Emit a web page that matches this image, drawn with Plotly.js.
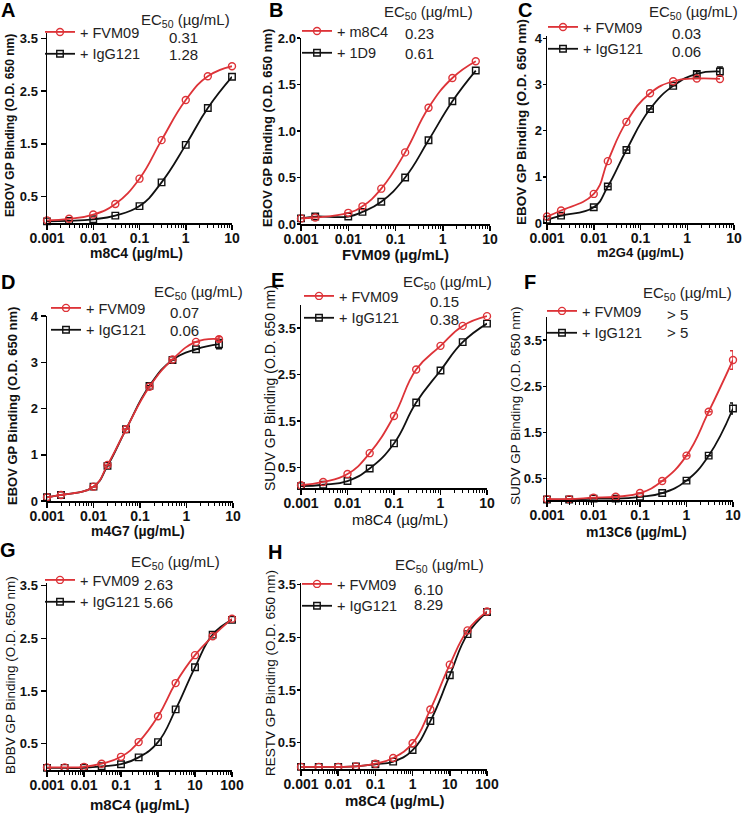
<!DOCTYPE html>
<html><head><meta charset="utf-8">
<script src="https://cdn.plot.ly/plotly-3.0.1.min.js"></script>
<style>html,body{margin:0;padding:0;background:#fff;} #chart{width:743px;height:813px;}</style>
</head><body><div id="chart"></div>
<script>
// ---------------- DATA ----------------
const conc10 = [0.001,0.003,0.01,0.03,0.1,0.3,1,3,10];
const conc5 = [0.001,0.002,0.01,0.02,0.05,0.16,0.5,1.6,5];
const conc100 = [0.001,0.003,0.01,0.03,0.1,0.3,1,3,10,30,100];

const A_FVM09  = [0.05,0.08,0.16,0.36,0.84,1.57,2.33,2.78,2.97];
const A_IgG121 = [0.03,0.04,0.07,0.14,0.32,0.77,1.48,2.18,2.77];
const B_m8C4   = [0.06,0.07,0.12,0.19,0.38,0.77,1.25,1.57,1.75];
const B_1D9    = [0.06,0.08,0.08,0.13,0.24,0.50,0.90,1.32,1.65];
const C_FVM09  = [0.14,0.27,0.63,1.34,2.19,2.81,3.07,3.13,3.12];
const C_IgG121 = [0.07,0.16,0.34,0.79,1.58,2.47,2.97,3.23,3.28];
const C_IgG121_err = [0,0,0,0,0,0,0,0.05,0.1];
const D_FVM09  = [0.08,0.13,0.31,0.78,1.55,2.47,3.06,3.44,3.50];
const D_FVM09_err = [0,0,0,0,0,0,0,0,0.05];
const D_IgG121 = [0.08,0.13,0.31,0.76,1.55,2.49,3.05,3.28,3.39];
const D_IgG121_err = [0,0,0,0,0,0,0,0,0.1];
const E_FVM09  = [0.12,0.19,0.36,0.81,1.61,2.61,3.12,3.55,3.76];
const E_IgG121 = [0.10,0.13,0.21,0.48,1.02,1.90,2.59,3.20,3.60];
const F_FVM09  = [0.06,0.06,0.09,0.11,0.19,0.45,1.00,1.95,3.07];
const F_FVM09_err = [0,0,0,0,0,0,0,0,0.2];
const F_IgG121 = [0.05,0.05,0.07,0.07,0.11,0.19,0.46,1.00,2.02];
const F_IgG121_err = [0,0,0,0,0,0,0,0,0.12];
const G_FVM09  = [0.05,0.05,0.06,0.12,0.25,0.53,1.02,1.65,2.18,2.54,2.87];
const G_IgG121 = [0.04,0.04,0.04,0.07,0.11,0.24,0.53,1.15,1.95,2.57,2.85];
const H_FVM09  = [0.04,0.04,0.04,0.05,0.10,0.21,0.49,1.13,1.98,2.63,2.99];
const H_IgG121 = [0.04,0.04,0.04,0.05,0.09,0.14,0.36,0.91,1.78,2.56,2.98];

const ec50_A = ['0.31','1.28'];
const ec50_B = ['0.23','0.61'];
const ec50_C = ['0.03','0.06'];
const ec50_D = ['0.07','0.06'];
const ec50_E = ['0.15','0.38'];
const ec50_F = ['> 5','> 5'];
const ec50_G = ['2.63','5.66'];
const ec50_H = ['6.10','8.29'];

const xTickVals10 = [0.001,0.01,0.1,1,10];
const xTickText10 = ['0.001','0.01','0.1','1','10'];
const xTickVals100 = [0.001,0.01,0.1,1,10,100];
const xTickText100 = ['0.001','0.01','0.1','1','10','100'];
const yTickOdd = [0.5,1.5,2.5,3.5];
const yTickOddText = ['0.5','1.5','2.5','3.5'];
const yTickB = [0,0.5,1,1.5,2];
const yTickBText = ['0.0','0.5','1.0','1.5','2.0'];
const yTickInt = [0,1,2,3,4];
const yTickIntText = ['0','1','2','3','4'];

// ---------------- LAYOUT CONFIG ----------------
const W = 743, H = 813;
const RED = '#dd3338', BLK = '#111111';
const FONT = 'Arial, "Liberation Sans", sans-serif';
const fx = p => p / W, fy = p => 1 - p / H;

// minor tick positions on the log axes (2..9 within each decade)
function minorTicks(maxDecade){
  const out = [];
  for(let e = -3; e < maxDecade; e++){
    for(let m = 2; m <= 9; m++) out.push(m * Math.pow(10, e));
  }
  return out;
}

const panels = [
 {L:'A', x:conc10, r:A_FVM09, k:A_IgG121, n:['+ FVM09','+ IgG121'], ec:ec50_A,
  xv:xTickVals10, xt:xTickText10, yv:yTickOdd, yt:yTickOddText, xr:[-3,1], yr:[0,3.6],
  box:[47,232,33,223], tight:false, xtitle:'m8C4 (µg/mL)', ytitle:'EBOV GP Binding (O.D. 650 nm)',
  ytf:12, ytw:'bold', ytp:[10,126], xtf:14, xtw:'bold', xtp:[136,253],
  leg:[40,16], hdr:[186,20], val:[167,37,55], lab:[8,10]},
 {L:'B', x:conc5, r:B_m8C4, k:B_1D9, n:['+ m8C4','+ 1D9'], ec:ec50_B,
  xv:xTickVals10, xt:xTickText10, yv:yTickB, yt:yTickBText, xr:[-3,1], yr:[0,2.0],
  box:[301,490,38,224], tight:true, xtitle:'FVM09 (µg/mL)', ytitle:'EBOV GP Binding (O.D. 650 nm)',
  ytf:13, ytw:'bold', ytp:[268,128], xtf:15, xtw:'bold', xtp:[395,255],
  leg:[297,15], hdr:[428,12], val:[403,34,53], lab:[276,10]},
 {L:'C', x:conc5, r:C_FVM09, k:C_IgG121, ke:C_IgG121_err, n:['+ FVM09','+ IgG121'], ec:ec50_C,
  xv:xTickVals10, xt:xTickText10, yv:yTickInt, yt:yTickIntText, xr:[-3,1], yr:[0,4.05],
  box:[547,734,36,223], tight:true, xtitle:'m2G4 (µg/mL)', ytitle:'EBOV GP Binding (O.D. 650 nm)',
  ytf:13.5, ytw:'bold', ytp:[522,122], xtf:13, xtw:'bold', xtp:[640,252],
  leg:[543,11], hdr:[693,12], val:[670,33,51], lab:[525,10]},
 {L:'D', x:conc5, r:D_FVM09, re:D_FVM09_err, k:D_IgG121, ke:D_IgG121_err, n:['+ FVM09','+ IgG121'], ec:ec50_D,
  xv:xTickVals10, xt:xTickText10, yv:yTickInt, yt:yTickIntText, xr:[-3,1], yr:[0,4.0],
  box:[47,233,316,501], tight:false, xtitle:'m4G7 (µg/mL)', ytitle:'EBOV GP Binding (O.D. 650 nm)',
  ytf:13, ytw:'bold', ytp:[12,406], xtf:14, xtw:'bold', xtp:[138,531],
  leg:[46,292], hdr:[198,292], val:[168,312,330], lab:[8,282]},
 {L:'E', x:conc10, r:E_FVM09, k:E_IgG121, n:['+ FVM09','+ IgG121'], ec:ec50_E,
  xv:xTickVals10, xt:xTickText10, yv:yTickOdd, yt:yTickOddText, xr:[-3,1], yr:[0.06,4.0],
  box:[301,487,305,488], tight:true, xtitle:'m8C4 (µg/mL)', ytitle:'SUDV GP Binding (O.D. 650 nm)',
  ytf:14, ytw:'normal', ytp:[270,388], xtf:15, xtw:'normal', xtp:[400,519],
  leg:[299,280], hdr:[447,283], val:[428,301,319], lab:[277,280]},
 {L:'F', x:conc10, r:F_FVM09, re:F_FVM09_err, k:F_IgG121, ke:F_IgG121_err, n:['+ FVM09','+ IgG121'], ec:ec50_F,
  xv:xTickVals10, xt:xTickText10, yv:yTickOdd, yt:yTickOddText, xr:[-3,1], yr:[0.04,4.0],
  box:[547,733,317,500], tight:true, xtitle:'m13C6 (µg/mL)', ytitle:'SUDV GP Binding (O.D. 650 nm)',
  ytf:13.5, ytw:'normal', ytp:[515,406], xtf:14, xtw:'bold', xtp:[636,532],
  leg:[542,295], hdr:[687,293], val:[665,314,332], lab:[530,282]},
 {L:'G', x:conc100, r:G_FVM09, k:G_IgG121, n:['+ FVM09','+ IgG121'], ec:ec50_G,
  xv:xTickVals100, xt:xTickText100, yv:yTickOdd, yt:yTickOddText, xr:[-3,2], yr:[0,3.55],
  box:[47,232,583,770], tight:false, xtitle:'m8C4 (µg/mL)', ytitle:'BDBV GP Binding (O.D. 650 nm)',
  ytf:13.5, ytw:'normal', ytp:[10,675], xtf:15, xtw:'bold', xtp:[140,804],
  leg:[40,564], hdr:[175,562], val:[142,584,602], lab:[8,550]},
 {L:'H', x:conc100, r:H_FVM09, k:H_IgG121, n:['+ FVM09','+ IgG121'], ec:ec50_H,
  xv:xTickVals100, xt:xTickText100, yv:yTickOdd, yt:yTickOddText, xr:[-3,2], yr:[0,3.53],
  box:[301,487,583,769], tight:true, xtitle:'m8C4 (µg/mL)', ytitle:'RESTV GP Binding (O.D. 650 nm)',
  ytf:13.5, ytw:'normal', ytp:[270,673], xtf:15, xtw:'bold', xtp:[395,800],
  leg:[297,568], hdr:[439,565], val:[412,589,604], lab:[275,552]}
];

const traces = [];
const layout = {
  width: W, height: H, margin:{l:0,r:0,t:0,b:0},
  paper_bgcolor:'#fff', plot_bgcolor:'rgba(0,0,0,0)',
  font:{family:FONT, color:'#111'},
  showlegend:true, annotations:[]
};

function errObj(arr, color){
  if(!arr) return undefined;
  return {type:'data', array:arr, visible:true, color:color, thickness:1.5, width:3};
}

panels.forEach((p, i) => {
  const n = i + 1;
  const xa = n === 1 ? 'x' : 'x' + n;
  const ya = n === 1 ? 'y' : 'y' + n;
  const xk = n === 1 ? 'xaxis' : 'xaxis' + n;
  const yk = n === 1 ? 'yaxis' : 'yaxis' + n;
  const lk = n === 1 ? 'legend' : 'legend' + n;

  // black first (drawn underneath), red on top
  traces.push({
    type:'scatter', mode:'lines+markers', x:p.x, y:p.k, name:p.n[1],
    xaxis:xa, yaxis:ya, legend:lk, legendrank:2,
    line:{color:BLK, width:1.8, shape:'spline', smoothing:1.3},
    marker:{symbol:'square-open', size:6.5, color:BLK, line:{width:1.4, color:BLK}},
    error_y: errObj(p.ke, BLK), cliponaxis:false
  });
  traces.push({
    type:'scatter', mode:'lines+markers', x:p.x, y:p.r, name:p.n[0],
    xaxis:xa, yaxis:ya, legend:lk, legendrank:1,
    line:{color:RED, width:1.8, shape:'spline', smoothing:1.3},
    marker:{symbol:'circle-open', size:7, color:RED, line:{width:1.4, color:RED}},
    error_y: errObj(p.re, RED), cliponaxis:false
  });

  const [x0,x1,y0,y1] = p.box;
  layout[xk] = {
    type:'log', domain:[fx(x0), fx(x1)], range:p.xr, anchor:ya,
    showline:true, linecolor:'#000', linewidth:1.5, mirror:false,
    ticks:'outside', ticklen:5, tickwidth:1.5, tickcolor:'#000',
    tickmode:'array', tickvals:p.xv, ticktext:p.xt, ticklabelstandoff:-3,
    tickfont:{family:FONT, size:14, weight:'bold', color:'#111'},
    showgrid:false, zeroline:false,
    minor:{tickmode:'array', tickvals:minorTicks(p.xr[1]), ticks:'outside', ticklen:3,
           tickwidth:1, tickcolor:'#000', showgrid:false}
  };
  layout[yk] = {
    domain:[fy(y1), fy(y0)], range:p.yr, anchor:xa,
    showline:true, linecolor:'#000', linewidth:1.5,
    ticks:'outside', ticklen:p.tight ? 3 : 5, tickwidth:1.5, tickcolor:'#000',
    tickmode:'array', tickvals:p.yv, ticktext:p.yt, ticklabelstandoff:p.tight ? -2 : 0,
    tickfont:{family:FONT, size:13, weight:'bold', color:'#111'},
    showgrid:false, zeroline:false
  };
  layout[lk] = {
    x:fx(p.leg[0]), y:fy(p.leg[1]), xref:'paper', yref:'paper',
    xanchor:'left', yanchor:'top', bgcolor:'rgba(0,0,0,0)', borderwidth:0,
    font:{family:FONT, size:14.5, color:'#222'}, tracegroupgap:0
  };

  // axis titles
  layout.annotations.push({text:p.xtitle, xref:'paper', yref:'paper', x:fx(p.xtp[0]), y:fy(p.xtp[1]),
    xanchor:'center', yanchor:'middle', showarrow:false,
    font:{family:FONT, size:p.xtf, weight:p.xtw, color:'#111'}});
  layout.annotations.push({text:p.ytitle, xref:'paper', yref:'paper', x:fx(p.ytp[0]), y:fy(p.ytp[1]),
    xanchor:'center', yanchor:'middle', showarrow:false, textangle:-90,
    font:{family:FONT, size:p.ytf, weight:p.ytw, color:'#111'}});
  // panel letter
  layout.annotations.push({text:p.L, xref:'paper', yref:'paper', x:fx(p.lab[0]), y:fy(p.lab[1]),
    xanchor:'center', yanchor:'middle', showarrow:false,
    font:{family:FONT, size:20, weight:'bold', color:'#000'}});
  // EC50 header
  layout.annotations.push({text:'EC<sub>50</sub> (µg/mL)', xref:'paper', yref:'paper',
    x:fx(p.hdr[0]), y:fy(p.hdr[1]), xanchor:'center', yanchor:'middle', showarrow:false,
    font:{family:FONT, size:15, color:'#222'}});
  // EC50 values
  p.ec.forEach((v, j) => {
    layout.annotations.push({text:v, xref:'paper', yref:'paper',
      x:fx(p.val[0]), y:fy(p.val[1 + j]), xanchor:'left', yanchor:'middle', showarrow:false,
      font:{family:FONT, size:15, color:'#222'}});
  });
});

Plotly.newPlot('chart', traces, layout, {staticPlot:true, displayModeBar:false});
</script>
</body></html>
